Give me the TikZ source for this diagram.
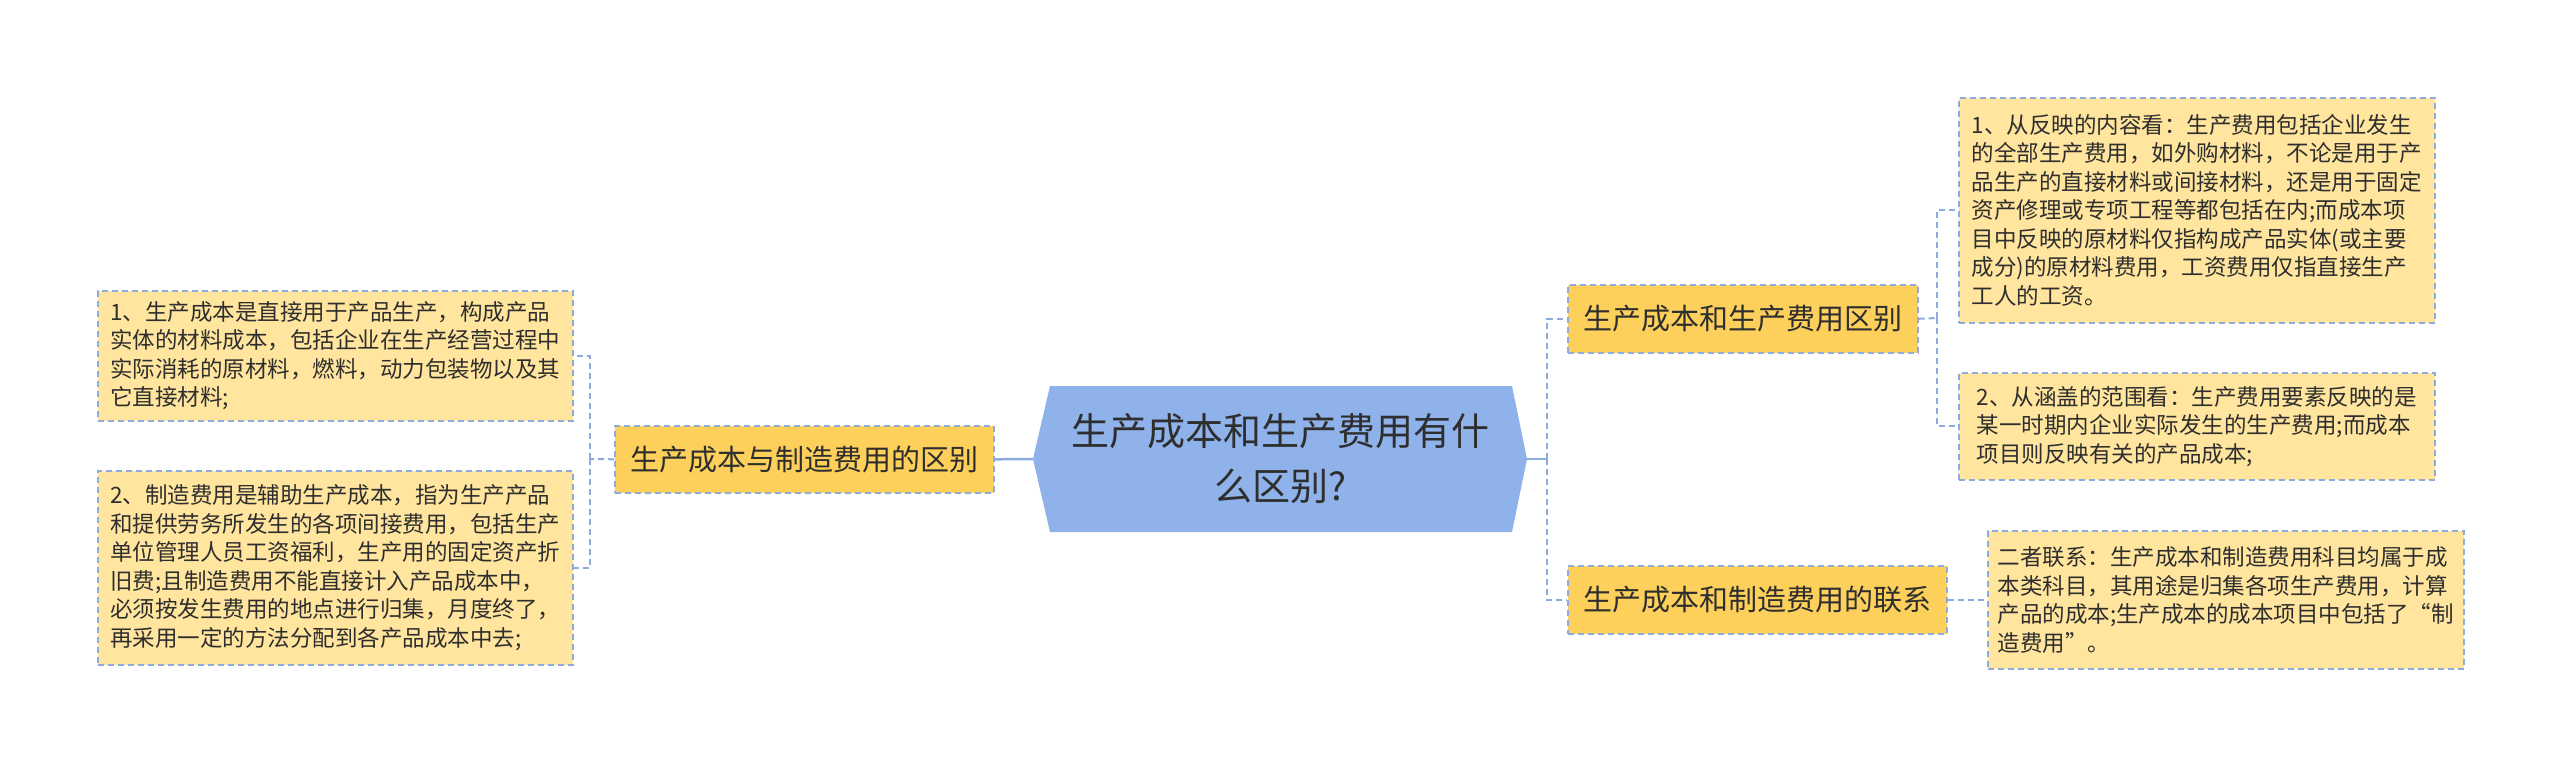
\documentclass[tikz,border=0pt]{standalone}
\usepackage{fontspec}
\setmainfont{Noto Sans CJK SC}
\definecolor{linec}{HTML}{8DABDC}
\definecolor{hexc}{HTML}{8FB2EA}
\definecolor{branchc}{HTML}{FDD05B}
\definecolor{leafc}{HTML}{FFE59E}
\definecolor{txt}{HTML}{2E2E2E}
\begin{document}
\begin{tikzpicture}[x=1pt,y=-1pt,
  conn/.style={draw=linec, line width=2pt, dash pattern=on 6pt off 4pt},
  solidconn/.style={draw=linec, line width=2.5pt},
  boxbase/.style={draw=linec, line width=1.6pt, dash pattern=on 6pt off 4pt, inner sep=0pt, anchor=north west, text=txt, align=left},
  leaf/.style={boxbase, fill=leafc, font=\fontsize{22.5}{28.5}\selectfont},
  branch/.style={boxbase, fill=branchc, font=\fontsize{29}{35}\selectfont},
  hexnode/.style={inner sep=0pt, minimum width=494pt, minimum height=146pt, text=txt, align=center, font=\fontsize{38}{55}\selectfont}
]
\useasboundingbox[fill=white] (0,0) rectangle (2560,766);

% central hexagon
\fill[hexc] (1050,386) -- (1512,386) -- (1527,459) -- (1512,532) -- (1050,532) -- (1033,459) -- cycle;
\node[hexnode] (hex) at (1280,459) {生产成本和生产费用有什\\么区别?};

% branches
\node[branch, minimum width=379pt, minimum height=67pt] (lb) at (614,425) {生产成本与制造费用的区别};
\node[branch, minimum width=350pt, minimum height=68pt] (r1) at (1567,284) {生产成本和生产费用区别};
\node[branch, minimum width=379pt, minimum height=68pt] (r2) at (1567,565) {生产成本和制造费用的联系};

% leaves
\node[leaf, minimum width=475pt, minimum height=130pt] (l1) at (97,290) {1、生产成本是直接用于产品生产，构成产品\\实体的材料成本，包括企业在生产经营过程中\\实际消耗的原材料，燃料，动力包装物以及其\\它直接材料;};
\node[leaf, minimum width=475pt, minimum height=194pt] (l2) at (97,470) {2、制造费用是辅助生产成本，指为生产产品\\和提供劳务所发生的各项间接费用，包括生产\\单位管理人员工资福利，生产用的固定资产折\\旧费;且制造费用不能直接计入产品成本中，\\必须按发生费用的地点进行归集，月度终了，\\再采用一定的方法分配到各产品成本中去;};
\node[leaf, minimum width=476pt, minimum height=225pt] (ra) at (1958,97) {1、从反映的内容看：生产费用包括企业发生\\的全部生产费用，如外购材料，不论是用于产\\品生产的直接材料或间接材料，还是用于固定\\资产修理或专项工程等都包括在内;而成本项\\目中反映的原材料仅指构成产品实体(或主要\\成分)的原材料费用，工资费用仅指直接生产\\工人的工资。};
\node[leaf, minimum width=476pt, minimum height=107pt] (rb) at (1958,372) {2、从涵盖的范围看：生产费用要素反映的是\\某一时期内企业实际发生的生产费用;而成本\\项目则反映有关的产品成本;};
\node[leaf, minimum width=476pt, minimum height=138pt] (rc) at (1987,530) {二者联系：生产成本和制造费用科目均属于成\\本类科目，其用途是归集各项生产费用，计算\\产品的成本;生产成本的成本项目中包括了“制\\造费用”。};

% junctions
\coordinate (lj) at (590,459);
\coordinate (rj) at (1547,459);
\coordinate (r1j) at (1937,318);

% connectors
\draw[solidconn] (hex.west) -- (lb.east);
\draw[conn] (lb.west) -- (lj);
\draw[conn] (lj) |- (l1.east);
\draw[conn] (lj) |- (l2.east);

\draw[solidconn] (hex.east) -- (rj);
\draw[conn] (rj) |- (r1.west);
\draw[conn] (rj) |- (r2.west);

\draw[conn] (r1.east) -- (r1j);
\draw[conn] (r1j) |- (ra.west);
\draw[conn] (r1j) |- (rb.west);

\draw[conn] (r2.east) -- (rc.west);
\end{tikzpicture}
\end{document}
